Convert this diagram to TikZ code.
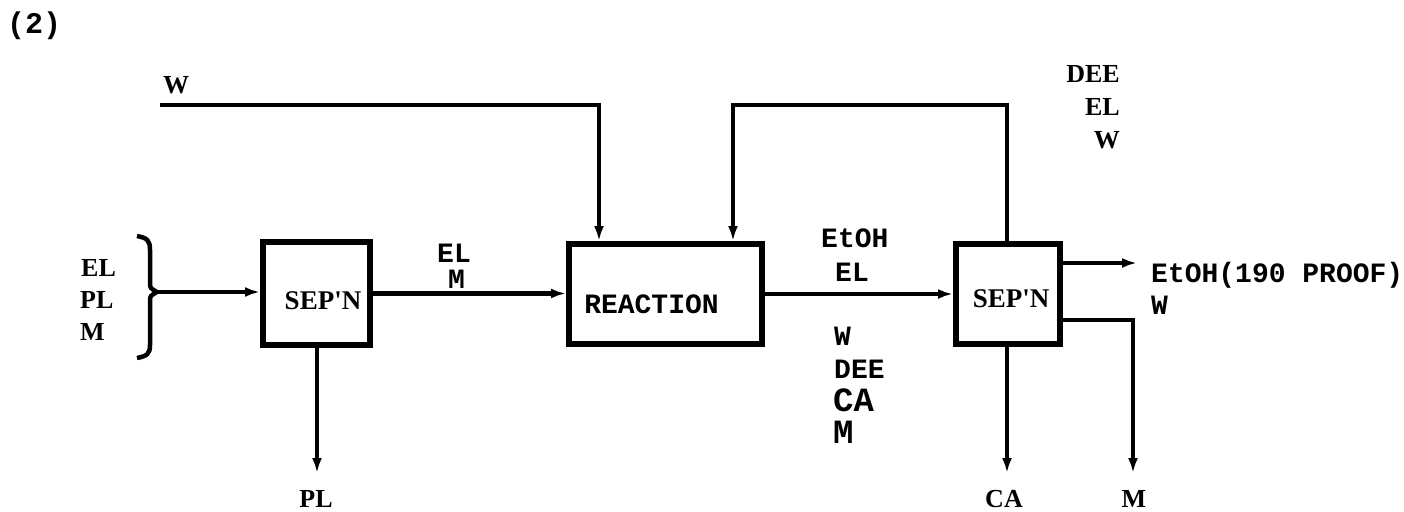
\documentclass[tikz,border=0pt]{standalone}
\usepackage{fontspec}
\newfontfamily\monof{Liberation Mono}
\newfontfamily\serf{Liberation Serif}
\usetikzlibrary{arrows.meta}
\begin{document}
\begin{tikzpicture}[x=1pt,y=-1pt,
  boxst/.style={draw, line width=6pt, inner sep=0pt},
  flow/.style={line width=4.5pt, -{Latex[length=15pt,width=10pt]}},
  ml/.style={font=\monof\bfseries\fontsize{28}{30}\selectfont, inner sep=0pt},
  mlb/.style={font=\monof\bfseries\fontsize{34}{36}\selectfont, inner sep=0pt},
  sl/.style={font=\serf\bfseries\fontsize{26}{28}\selectfont, inner sep=0pt},
  slb/.style={font=\serf\bfseries\fontsize{27}{29}\selectfont, inner sep=0pt}]
\useasboundingbox (0,0) rectangle (1404,511);

% boxes
\node[boxst, minimum width=107pt, minimum height=103pt,
      label={[slb, xshift=6.5pt, yshift=-7.5pt]center:SEP'N}] (sep1) at (316.5,293.5) {};
\node[boxst, minimum width=193pt, minimum height=100pt,
      label={[ml, xshift=-14pt, yshift=-10pt]center:REACTION}] (reac) at (665.5,294) {};
\node[boxst, minimum width=104pt, minimum height=100pt,
      label={[slb, xshift=3pt, yshift=-4.5pt]center:SEP'N}] (sep2) at (1008,294) {};

% title
\node[ml, anchor=base west, font=\monof\bfseries\fontsize{30}{32}\selectfont] (title) at (7,34) {(2)};

% feed brace
\coordinate (brtip) at (157,292);
\draw[line width=4.5pt] (137,236) .. controls (147,238) and (150,240) .. (150,250) -- (150,282)
  .. controls (150,288) .. (brtip) .. controls (150,296) .. (150,302) -- (150,345)
  .. controls (150,354) and (147,356) .. (137,358);
\node[sl, anchor=base west] (fel) at (81,276) {EL};
\node[sl, anchor=base west] (fpl) at (80,308) {PL};
\node[sl, anchor=base west] (fm) at (80,340) {M};
\draw[flow] (brtip) -- (brtip -| sep1.west);

% sep1 -> reaction
\draw[flow] (sep1.east) -- (sep1.east -| reac.west);
\node[ml, anchor=base west] (l1a) at (437,262) {EL};
\node[ml, anchor=base west] (l1b) at (448,288) {M};

% PL out
\coordinate (ple) at (317,473);
\draw[flow] (sep1.south -| ple) -- (ple);
\node[sl, anchor=base] (lpl) at (316,507) {PL};

% water feed
\coordinate (w0) at (160,105);
\node[sl, anchor=base west] (lw) at (163,93) {W};
\draw[flow] (w0) -| ([xshift=-66.5pt]reac.north);

% recycle
\coordinate (rtop) at (733,105);
\draw[flow] ([xshift=-1pt]sep2.north) |- (rtop) -- (rtop |- reac.north);
\node[sl, anchor=base east] (rd) at (1120,82) {DEE};
\node[sl, anchor=base east] (re) at (1120,115) {EL};
\node[sl, anchor=base east] (rw) at (1120,148) {W};

% reaction -> sep2
\draw[flow] (reac.east) -- (reac.east -| sep2.west);
\node[ml, anchor=base west] (l2a) at (821,247) {EtOH};
\node[ml, anchor=base west] (l2b) at (835,281) {EL};
\node[ml, anchor=base west] (l2c) at (834,345) {W};
\node[ml, anchor=base west] (l2d) at (834,378) {DEE};
\node[mlb, anchor=base west] (l2e) at (833,411) {CA};
\node[mlb, anchor=base west] (l2f) at (833,443) {M};

% sep2 outputs
\coordinate (eo) at (1137,263);
\draw[flow] (eo -| sep2.east) -- (eo);
\node[ml, anchor=base west] (leo) at (1151,282) {EtOH(190 PROOF)};
\node[ml, anchor=base west] (leow) at (1151,314) {W};

\coordinate (m1) at (1063,320);
\coordinate (mo) at (1133,473);
\draw[flow] (m1 -| sep2.east) -| (mo);
\node[sl, anchor=base] (lm) at (1134,507) {M};

\coordinate (cae) at (1007,473);
\draw[flow] (sep2.south -| cae) -- (cae);
\node[sl, anchor=base] (lca) at (1004,507) {CA};
\end{tikzpicture}
\end{document}
